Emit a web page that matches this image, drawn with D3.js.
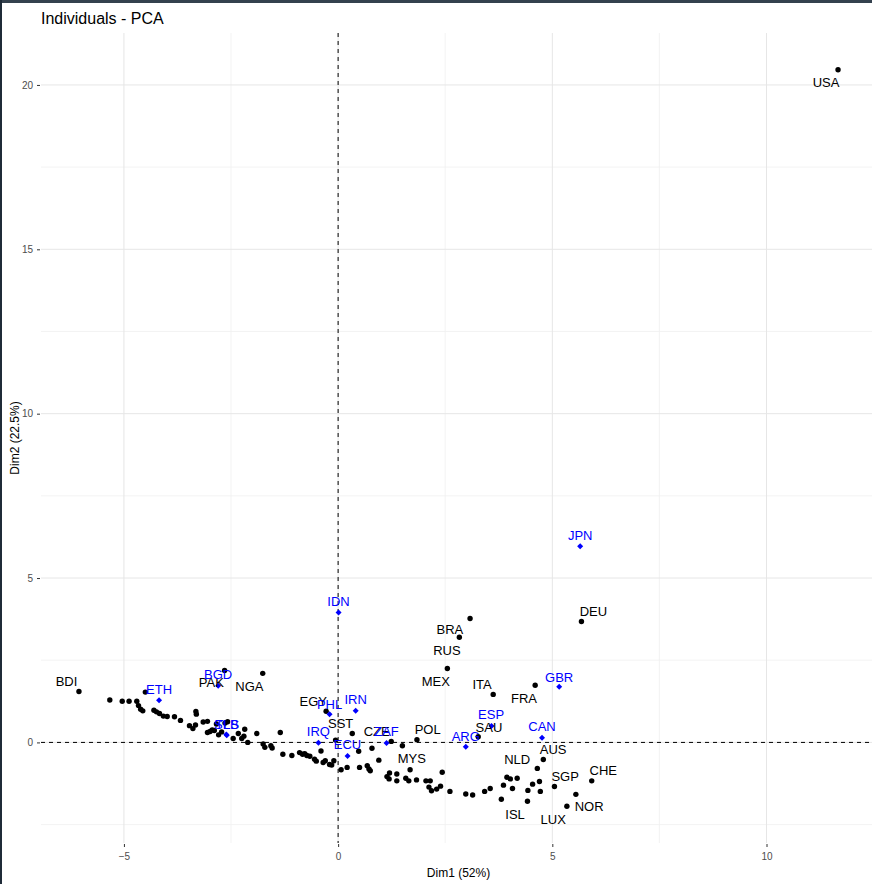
<!DOCTYPE html>
<html>
<head>
<meta charset="utf-8">
<script src="https://cdn.jsdelivr.net/npm/d3@7"></script>
<style>
  html, body { margin: 0; padding: 0; background: #ffffff; }
  svg { display: block; }
</style>
</head>
<body>
<svg id="chart" width="872" height="884"></svg>
<script>
// ---------- DATA ----------
const title = "Individuals - PCA";
const xTitle = "Dim1 (52%)";
const yTitle = "Dim2 (22.5%)";
const xTicks = [-5, 0, 5, 10];
const yTicks = [0, 5, 10, 15, 20];
const xMinor = [-2.5, 2.5, 7.5, 12.5];
const yMinor = [-2.5, 2.5, 7.5, 12.5, 17.5];

// labelled active individuals
const activeNames = ["USA","DEU","BRA","RUS","MEX","ITA","FRA","SAU","POL","MYS","CZE","SST","EGY","NGA","PAK","BDI","AUS","NLD","SGP","CHE","NOR","LUX","ISL"];
const activeDim1 = [11.67,5.68,3.08,2.83,2.55,3.62,4.60,3.27,1.84,1.68,1.24,0.33,-0.28,-1.76,-2.65,-6.05,4.79,4.65,5.05,5.92,5.34,4.72,3.81];
const activeDim2 = [20.46,3.68,3.77,3.20,2.25,1.46,1.74,0.17,0.08,-0.83,0.03,0.27,0.95,2.10,2.19,1.55,-0.52,-0.79,-1.34,-1.17,-1.94,-1.49,-1.73];
// label anchor (text centre), in data units
const activeLabelDim1 = [11.39,5.96,2.61,2.54,2.28,3.36,4.34,3.52,2.09,1.72,0.90,0.06,-0.58,-2.07,-2.96,-6.34,5.02,4.18,5.30,6.19,5.86,5.02,4.13];
const activeLabelDim2 = [20.07,3.98,3.44,2.80,1.86,1.77,1.34,0.46,0.40,-0.48,0.34,0.59,1.25,1.71,1.83,1.86,-0.20,-0.51,-1.02,-0.84,-1.93,-2.33,-2.18];

// unlabelled active individuals
const otherDim1 = [-5.33,-5.04,-4.88,-4.70,-4.66,-4.61,-4.56,-4.50,-4.30,-4.24,-4.17,-4.08,-3.99,-3.82,-3.68,-3.47,-3.39,-3.32,-3.31,-3.33,-3.15,-3.05,-3.05,-2.99,-2.94,-2.89,-2.84,-2.79,-2.72,-2.64,-2.58,-2.45,-2.33,-2.25,-2.20,-2.18,-2.11,-1.90,-1.75,-1.71,-1.57,-1.54,-1.35,-1.29,-1.08,-0.90,-0.83,-0.78,-0.73,-0.66,-0.55,-0.51,-0.40,-0.35,-0.30,-0.20,-0.15,-0.10,-0.06,0.07,0.21,0.48,0.50,0.68,0.72,0.75,0.79,0.95,1.14,1.19,1.20,1.37,1.37,1.50,1.58,1.65,1.83,2.05,2.15,2.12,2.18,2.30,2.39,2.43,2.61,2.98,3.14,3.42,3.55,3.86,3.94,4.02,4.18,4.07,4.43,4.54,4.70,5.55,4.42];
const otherDim2 = [1.29,1.25,1.25,1.25,1.12,1.01,0.96,1.53,0.98,0.93,0.88,0.80,0.79,0.78,0.67,0.51,0.42,0.94,0.86,0.53,0.62,0.64,0.30,0.33,0.38,0.36,0.56,0.23,0.32,0.59,0.63,0.12,0.27,0.12,0.19,0.40,0.00,0.27,-0.05,-0.15,-0.10,-0.17,0.30,-0.36,-0.40,-0.31,-0.36,-0.34,-0.40,-0.42,-0.51,-0.57,-0.26,-0.61,-0.56,-0.67,-0.69,-0.56,0.07,-0.83,-0.76,-0.27,-0.76,-0.71,-0.81,-0.86,-0.18,-0.54,-1.04,-1.11,-0.93,-0.96,-1.17,-0.10,-1.09,-1.17,-1.14,-1.17,-1.17,-1.36,-1.47,-1.42,-1.33,-0.91,-1.49,-1.57,-1.60,-1.49,-1.40,-1.30,-1.06,-1.11,-1.09,-1.40,-1.46,-1.27,-1.19,-1.58,-1.79];

// supplementary individuals (blue)
const suppNames = ["JPN","GBR","ESP","CAN","ARG","ZAF","IRN","PHL","IDN","IRQ","ECU","BGD","ETH","SLB","TLS"];
const suppDim1 = [5.65,5.16,3.58,4.76,2.98,1.13,0.41,-0.20,0.01,-0.46,0.22,-2.80,-4.18,-2.60,-2.61];
const suppDim2 = [5.97,1.69,0.50,0.14,-0.13,-0.02,0.96,0.86,3.95,-0.01,-0.41,1.72,1.28,0.22,0.24];
const suppLabelDim1 = [5.65,5.16,3.57,4.76,2.98,1.13,0.41,-0.20,0.01,-0.46,0.22,-2.80,-4.18,-2.61,-2.59];
const suppLabelDim2 = [6.29,1.98,0.86,0.49,0.19,0.34,1.31,1.16,4.29,0.34,-0.05,2.07,1.62,0.56,0.56];

// ---------- CHART ----------
const W = 872, H = 884;
const panel = { left: 41, right: 876, top: 33, bottom: 843 };
const svg = d3.select("#chart");
const FONT = "'Liberation Sans', Arial, sans-serif";

// window frame strips
svg.append("rect").attr("x", 0).attr("y", 0).attr("width", W).attr("height", 3).attr("fill", "#34414e");
svg.append("rect").attr("x", 0).attr("y", 0).attr("width", 2).attr("height", H).attr("fill", "#1f2b38");

const allX = activeDim1.concat(otherDim1, suppDim1);
const allY = activeDim2.concat(otherDim2, suppDim2);
const xr = d3.extent(allX), yr = d3.extent(allY);
const xpad = (xr[1] - xr[0]) * 0.05, ypad = (yr[1] - yr[0]) * 0.05;

const x = d3.scaleLinear().domain([xr[0] - xpad, xr[1] + xpad]).range([panel.left, panel.right]);
const y = d3.scaleLinear().domain([yr[0] - ypad, yr[1] + ypad]).range([panel.bottom, panel.top]);

svg.append("clipPath").attr("id", "pclip").append("rect")
  .attr("x", panel.left).attr("y", panel.top)
  .attr("width", panel.right - panel.left).attr("height", panel.bottom - panel.top);

const grid = svg.append("g");
// minor grid
grid.selectAll("line.xm").data(xMinor.filter(v => x(v) <= panel.right)).enter().append("line")
  .attr("x1", d => x(d)).attr("x2", d => x(d)).attr("y1", panel.top).attr("y2", panel.bottom)
  .attr("stroke", "#f0f0f0").attr("stroke-width", 0.8);
grid.selectAll("line.ym").data(yMinor).enter().append("line")
  .attr("y1", d => y(d)).attr("y2", d => y(d)).attr("x1", panel.left).attr("x2", panel.right)
  .attr("stroke", "#f0f0f0").attr("stroke-width", 0.8);
// major grid
grid.selectAll("line.xg").data(xTicks).enter().append("line")
  .attr("x1", d => x(d)).attr("x2", d => x(d)).attr("y1", panel.top).attr("y2", panel.bottom)
  .attr("stroke", "#e6e6e6").attr("stroke-width", 1);
grid.selectAll("line.yg").data(yTicks).enter().append("line")
  .attr("y1", d => y(d)).attr("y2", d => y(d)).attr("x1", panel.left).attr("x2", panel.right)
  .attr("stroke", "#e6e6e6").attr("stroke-width", 1);

// axes (ticks + labels)
const xAxis = d3.axisBottom(x).tickValues(xTicks).tickSize(3).tickPadding(6).tickFormat(d3.format("d"));
const gx = svg.append("g").attr("transform", `translate(0,${panel.bottom + 1})`).call(xAxis);
gx.select(".domain").remove();
gx.selectAll("line").attr("stroke", "#333333");
gx.selectAll("text").attr("fill", "#4d4d4d").style("font-family", FONT).style("font-size", "10px");

const yAxis = d3.axisLeft(y).tickValues(yTicks).tickSize(3).tickPadding(4).tickFormat(d3.format("d"));
const gy = svg.append("g").attr("transform", `translate(${panel.left - 1},0)`).call(yAxis);
gy.select(".domain").remove();
gy.selectAll("line").attr("stroke", "#333333");
gy.selectAll("text").attr("fill", "#4d4d4d").style("font-family", FONT).style("font-size", "10px");

// dashed zero lines
const plot = svg.append("g").attr("clip-path", "url(#pclip)");
plot.append("line").attr("x1", x(0)).attr("x2", x(0)).attr("y1", panel.top).attr("y2", panel.bottom)
  .attr("stroke", "#000").attr("stroke-width", 1).attr("stroke-dasharray", "4,4");
plot.append("line").attr("y1", y(0)).attr("y2", y(0)).attr("x1", panel.left).attr("x2", panel.right)
  .attr("stroke", "#000").attr("stroke-width", 1).attr("stroke-dasharray", "4,4");

// unlabelled active points
const others = otherDim1.map((v, i) => ({ x: v, y: otherDim2[i] }));
plot.selectAll("circle.o").data(others).enter().append("circle")
  .attr("cx", d => x(d.x)).attr("cy", d => y(d.y)).attr("r", 2.7).attr("fill", "#000");

// labelled active points
const active = activeNames.map((n, i) => ({ n, x: activeDim1[i], y: activeDim2[i], lx: activeLabelDim1[i], ly: activeLabelDim2[i] }));
plot.selectAll("circle.a").data(active).enter().append("circle")
  .attr("cx", d => x(d.x)).attr("cy", d => y(d.y)).attr("r", 2.7).attr("fill", "#000");

// supplementary points (blue diamonds = rotated squares)
const supp = suppNames.map((n, i) => ({ n, x: suppDim1[i], y: suppDim2[i], lx: suppLabelDim1[i], ly: suppLabelDim2[i] }));
const diamond = d3.symbol().type(d3.symbolSquare).size(18);
plot.selectAll("path.s").data(supp).enter().append("path")
  .attr("d", diamond).attr("transform", d => `translate(${x(d.x)},${y(d.y)}) rotate(45)`).attr("fill", "#0000ff");

// labels
svg.append("g").selectAll("text").data(active).enter().append("text")
  .attr("x", d => x(d.lx)).attr("y", d => y(d.ly)).attr("dy", "0.36em").attr("text-anchor", "middle")
  .style("font-family", FONT).style("font-size", "13px").attr("fill", "#000").text(d => d.n);
svg.append("g").selectAll("text").data(supp).enter().append("text")
  .attr("x", d => x(d.lx)).attr("y", d => y(d.ly)).attr("dy", "0.36em").attr("text-anchor", "middle")
  .style("font-family", FONT).style("font-size", "13px").attr("fill", "#0000ff").text(d => d.n);

// titles
svg.append("text").attr("x", panel.left).attr("y", 24).style("font-family", FONT).style("font-size", "16px")
  .attr("fill", "#000").text(title);
svg.append("text").attr("x", (panel.left + panel.right) / 2).attr("y", 877).attr("text-anchor", "middle")
  .style("font-family", FONT).style("font-size", "12px").attr("fill", "#000").text(xTitle);
svg.append("text").attr("transform", `translate(19,${(panel.top + panel.bottom) / 2}) rotate(-90)`)
  .attr("text-anchor", "middle").style("font-family", FONT).style("font-size", "12px").attr("fill", "#000").text(yTitle);
</script>
</body>
</html>
